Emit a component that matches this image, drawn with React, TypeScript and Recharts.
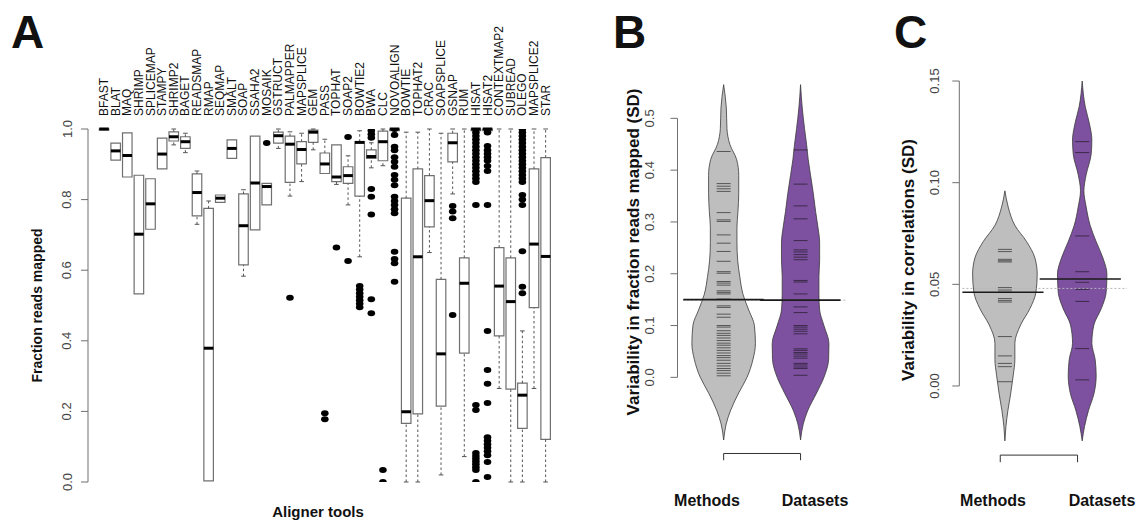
import React from 'react';
import {
  Area,
  ComposedChart,
  ReferenceArea,
  ReferenceLine,
  Scatter,
  XAxis,
  YAxis,
} from 'recharts';

const FONT = '"Liberation Sans", Arial, Helvetica, sans-serif';
const AXIS = '#6f6f6f';

// ---------- panel A: fraction of reads mapped, per aligner ----------
const TOOLS = [
  'BFAST', 'BLAT', 'MAQ', 'SHRIMP', 'SPLICEMAP', 'STAMPY', 'SHRIMP2', 'BAGET',
  'READSMAP', 'RMAP', 'SEQMAP', 'SMALT', 'SOAP', 'SSAHA2', 'MOSAIK', 'GSTRUCT',
  'PALMAPPER', 'MAPSPLICE', 'GEM', 'PASS', 'TOPHAT', 'SOAP2', 'BOWTIE2', 'BWA',
  'CLC', 'NOVOALIGN', 'BOWTIE', 'TOPHAT2', 'CRAC', 'SOAPSPLICE', 'GSNAP', 'RUM',
  'HISAT', 'HISAT2', 'CONTEXTMAP2', 'SUBREAD', 'OLEGO', 'MAPSPLICE2', 'STAR',
];

const LOWER = [
  1.0, 0.912, 0.864, 0.533, 0.716, 0.887, 0.955, 0.933, 0.73, 0.003,
  0.792, 0.917, 0.583, 0.714, 0.785, 0.945, 0.81, 0.851, 0.941, 0.874,
  0.843, 0.785, 0.638, 0.89, 0.896, 0.99, 0.0, 0.0, 0.65, 0.02,
  0.816, 0.072, 0.99, 0.99, 0.265, 0.0, 0.0, 0.265, 0.0,
];
const Q1 = [
  0.997, 0.912, 0.864, 0.533, 0.716, 0.887, 0.966, 0.945, 0.754, 0.003,
  0.792, 0.917, 0.615, 0.714, 0.785, 0.96, 0.849, 0.901, 0.962, 0.874,
  0.851, 0.846, 0.81, 0.917, 0.91, 0.995, 0.166, 0.193, 0.723, 0.215,
  0.907, 0.365, 0.995, 0.995, 0.414, 0.263, 0.152, 0.494, 0.121,
];
const MEDIAN = [
  1.0, 0.938, 0.925, 0.702, 0.788, 0.929, 0.978, 0.964, 0.82, 0.379,
  0.804, 0.945, 0.726, 0.847, 0.837, 0.981, 0.957, 0.942, 0.991, 0.901,
  0.864, 0.868, 0.962, 0.922, 0.964, 1.0, 0.199, 0.638, 0.797, 0.363,
  0.961, 0.563, 1.0, 1.0, 0.555, 0.511, 0.246, 0.674, 0.639,
];
const Q3 = [
  1.0, 0.96, 0.989, 0.869, 0.859, 0.974, 0.992, 0.978, 0.873, 0.775,
  0.813, 0.969, 0.816, 0.98, 0.846, 0.991, 0.98, 0.964, 0.997, 0.932,
  0.955, 0.893, 0.964, 0.941, 0.994, 1.0, 0.804, 0.887, 0.868, 0.574,
  0.988, 0.635, 1.0, 1.0, 0.664, 0.635, 0.28, 0.887, 0.919,
];
const UPPER = [
  1.0, 0.96, 0.989, 0.869, 0.859, 0.974, 1.0, 0.988, 0.881, 0.796,
  0.813, 0.969, 0.828, 0.98, 0.846, 1.0, 0.992, 0.988, 1.0, 0.971,
  0.955, 0.924, 0.995, 0.961, 1.0, 1.0, 0.991, 0.991, 1.0, 0.988,
  1.0, 1.0, 1.0, 1.0, 1.0, 1.0, 0.428, 1.0, 1.0,
];

const OUTLIER_TOOLS = [
  'MOSAIK', 'PALMAPPER', 'PASS', 'TOPHAT', 'SOAP2', 'BOWTIE2', 'BWA', 'CLC',
  'NOVOALIGN', 'GSNAP', 'HISAT', 'HISAT2', 'OLEGO',
];
const OUTLIER_VALUES = [
  [0.96],
  [0.522],
  [0.195, 0.178],
  [0.664],
  [0.977, 0.626],
  [0.555, 0.545, 0.535, 0.525, 0.515, 0.505, 0.495],
  [0.995, 0.985, 0.975, 0.83, 0.808, 0.758, 0.518, 0.478],
  [0.034, 0.0],
  [1.0, 0.983, 0.95, 0.94, 0.92, 0.907, 0.893, 0.87, 0.856, 0.841, 0.808,
    0.796, 0.785, 0.773, 0.761, 0.652, 0.632, 0.62, 0.567],
  [0.782, 0.766, 0.747, 0.473],
  [1.0, 0.99, 0.98, 0.97, 0.96, 0.95, 0.94, 0.93, 0.92, 0.91, 0.9, 0.89,
    0.88, 0.87, 0.86, 0.85, 0.785, 0.218, 0.204, 0.082, 0.074, 0.066, 0.058,
    0.05, 0.042, 0.034, 0.0],
  [1.0, 0.99, 0.952, 0.94, 0.93, 0.92, 0.91, 0.895, 0.881, 0.785, 0.428,
    0.317, 0.278, 0.224, 0.127, 0.117, 0.107, 0.097, 0.087, 0.076, 0.057, 0.014],
  [1.0, 0.99, 0.98, 0.97, 0.96, 0.95, 0.94, 0.93, 0.92, 0.91, 0.9, 0.89,
    0.88, 0.87, 0.86, 0.85, 0.813, 0.8, 0.785, 0.654, 0.553, 0.535],
];

// ---------- panel B: SD of fraction reads mapped ----------
const B_LEVELS = [
  0.565, 0.52, 0.48, 0.45, 0.42, 0.39, 0.355, 0.32, 0.29, 0.26, 0.225,
  0.195, 0.16, 0.13, 0.1, 0.065, 0.035, 0.0, -0.03, -0.065, -0.09, -0.121,
];
const B_METHOD_DENSITY = [
  0, 0.035, 0.043, 0.08, 0.17, 0.196, 0.196, 0.186, 0.173, 0.173, 0.183,
  0.209, 0.252, 0.326, 0.4, 0.413, 0.382, 0.304, 0.196, 0.087, 0.033, 0,
];
const B_DATASET_DENSITY = [
  0, 0.022, 0.052, 0.078, 0.1, 0.13, 0.166, 0.196, 0.226, 0.248, 0.248,
  0.239, 0.239, 0.248, 0.304, 0.369, 0.365, 0.304, 0.209, 0.091, 0.035, 0,
];
const B_METHOD_SD = [
  0.436, 0.374, 0.369, 0.364, 0.359, 0.318, 0.304, 0.301, 0.275, 0.259,
  0.243, 0.224, 0.204, 0.201, 0.185, 0.182, 0.178, 0.167, 0.164, 0.161,
  0.151, 0.138, 0.135, 0.122, 0.116, 0.1, 0.097, 0.09, 0.085, 0.081, 0.076,
  0.071, 0.066, 0.062, 0.057, 0.052, 0.047, 0.042, 0.038, 0.033, 0.027,
  0.022, 0.017, 0.013, 0.008, 0.003,
];
const B_DATASET_SD = [
  0.439, 0.373, 0.331, 0.306, 0.264, 0.246, 0.242, 0.237, 0.232, 0.227,
  0.187, 0.184, 0.161, 0.136, 0.125, 0.1, 0.097, 0.093, 0.089, 0.084, 0.055,
  0.052, 0.048, 0.045, 0.041, 0.037, 0.027, 0.024, 0.02, 0.017, 0.004,
];
const B_MEANS = [0.15, 0.149];
const B_GRAND_MEAN = 0.149;

// ---------- panel C: SD of correlations ----------
const C_LEVELS = [
  0.15, 0.1375, 0.129, 0.121, 0.114, 0.104, 0.096, 0.088, 0.079, 0.071, 0.063,
  0.055, 0.046, 0.038, 0.03, 0.021, 0.013, 0.005, -0.004, -0.012, -0.02, -0.027,
];
const C_METHOD_DENSITY = [
  null, null, null, null, null, null, 0, 0.043, 0.129, 0.281, 0.388,
  0.418, 0.401, 0.323, 0.203, 0.129, 0.129, 0.107, 0.074, 0.039, 0.013, 0,
];
const C_DATASET_DENSITY = [
  0, 0.039, 0.094, 0.125, 0.116, 0.052, 0.022, 0.052, 0.103, 0.181, 0.268,
  0.32, 0.31, 0.246, 0.151, 0.125, 0.168, 0.181, 0.151, 0.082, 0.03, 0,
];
const C_METHOD_SD = [
  0.0672, 0.0661, 0.0623, 0.0616, 0.061, 0.0484, 0.0472, 0.0461, 0.043,
  0.0421, 0.0413, 0.0243, 0.0148, 0.0111, 0.0095, 0.0021,
];
const C_DATASET_SD = [
  0.1202, 0.1148, 0.0738, 0.0562, 0.051, 0.0475, 0.0416, 0.0184, 0.003,
];
const C_MEANS = [0.0461, 0.0526];
const C_GRAND_MEAN = 0.048;

const GROUPS = ['Methods', 'Datasets'];

// ---------- derived tables ----------
const toolRows = TOOLS.map((name, i) => ({
  name,
  x: i + 1,
  lo: LOWER[i],
  q1: Q1[i],
  med: MEDIAN[i],
  q3: Q3[i],
  hi: UPPER[i],
}));

const outlierPoints = OUTLIER_TOOLS.flatMap((t, k) =>
  OUTLIER_VALUES[k].map((y) => ({ x: TOOLS.indexOf(t) + 1, y })),
);

const spread = (centre: number, w: number | null) =>
  w == null ? [null, null] : [centre - w, centre + w];

const beanRows = (levels: number[], a: (number | null)[], b: (number | null)[]) =>
  levels.map((v, i) => ({ v, m: spread(1, a[i]), d: spread(2, b[i]) }));

const bRows = beanRows(B_LEVELS, B_METHOD_DENSITY, B_DATASET_DENSITY);
const cRows = beanRows(C_LEVELS, C_METHOD_DENSITY, C_DATASET_DENSITY);

const rugPoints = (vals: number[], x: number) => vals.map((v) => ({ x, v }));

// ---------- small renderers ----------
const rotatedTick = (cx: number, digits: number) => (props: any) => {
  const { y, payload } = props;
  return (
    <text
      x={cx}
      y={y}
      transform={`rotate(-90 ${cx} ${y})`}
      textAnchor="middle"
      dominantBaseline="central"
      fontSize={13}
      fontFamily={FONT}
      fill="#444"
    >
      {Number(payload.value).toFixed(digits)}
    </text>
  );
};

const ToolTick = (props: any) => {
  const { x, payload } = props;
  const y = 116;
  return (
    <text
      x={x}
      y={y}
      transform={`rotate(-90 ${x} ${y})`}
      textAnchor="start"
      dominantBaseline="central"
      fontSize={12}
      fontFamily={FONT}
      fill="#111"
    >
      {TOOLS[payload.value - 1]}
    </text>
  );
};

const OutlierDot = (props: any) => {
  const { cx, cy } = props;
  if (cx == null || cy == null) return <g />;
  return <ellipse cx={cx} cy={cy} rx={3.8} ry={3} fill="#000" />;
};

const Rug = (props: any) => {
  const { cx, cy } = props;
  if (cx == null || cy == null) return <g />;
  return (
    <line
      x1={cx - 7}
      x2={cx + 7}
      y1={cy}
      y2={cy}
      stroke="#111"
      strokeOpacity={0.6}
      strokeWidth={1}
    />
  );
};

const BoxPanel = () => (
  <ComposedChart
    width={570}
    height={522}
    margin={{ top: 115, right: 17.4, bottom: 40, left: 0 }}
  >
    <XAxis
      type="number"
      dataKey="x"
      orientation="top"
      domain={[-0.38, 39.6]}
      allowDataOverflow
      ticks={toolRows.map((r) => r.x)}
      interval={0}
      tick={(p: any) => <ToolTick {...p} />}
      axisLine={false}
      tickLine={false}
      height={14}
    />
    <YAxis
      type="number"
      dataKey="y"
      domain={[0, 1]}
      allowDataOverflow
      ticks={[0, 0.2, 0.4, 0.6, 0.8, 1]}
      interval={0}
      width={88}
      tickSize={7}
      axisLine={{ stroke: AXIS }}
      tickLine={{ stroke: AXIS }}
      tick={rotatedTick(67, 1)}
    />

    {/* whiskers */}
    {toolRows.map((r) =>
      r.hi > r.q3 + 0.001 ? (
        <ReferenceLine
          key={`uw-${r.name}`}
          segment={[{ x: r.x, y: r.q3 }, { x: r.x, y: r.hi }]}
          stroke="#555"
          strokeDasharray="2.5 2.5"
          ifOverflow="visible"
        />
      ) : null,
    )}
    {toolRows.map((r) =>
      r.hi > r.q3 + 0.001 ? (
        <ReferenceLine
          key={`uc-${r.name}`}
          segment={[{ x: r.x - 0.2, y: r.hi }, { x: r.x + 0.2, y: r.hi }]}
          stroke="#555"
          ifOverflow="visible"
        />
      ) : null,
    )}
    {toolRows.map((r) =>
      r.lo < r.q1 - 0.001 ? (
        <ReferenceLine
          key={`lw-${r.name}`}
          segment={[{ x: r.x, y: r.lo }, { x: r.x, y: r.q1 }]}
          stroke="#555"
          strokeDasharray="2.5 2.5"
          ifOverflow="visible"
        />
      ) : null,
    )}
    {toolRows.map((r) =>
      r.lo < r.q1 - 0.001 ? (
        <ReferenceLine
          key={`lc-${r.name}`}
          segment={[{ x: r.x - 0.2, y: r.lo }, { x: r.x + 0.2, y: r.lo }]}
          stroke="#555"
          ifOverflow="visible"
        />
      ) : null,
    )}

    {/* boxes */}
    {toolRows.map((r) => (
      <ReferenceArea
        key={`box-${r.name}`}
        x1={r.x - 0.41}
        x2={r.x + 0.41}
        y1={r.q1}
        y2={r.q3}
        fill="#fff"
        fillOpacity={1}
        stroke="#707070"
        strokeWidth={1.2}
        ifOverflow="visible"
      />
    ))}

    {/* medians */}
    {toolRows.map((r) => (
      <ReferenceLine
        key={`med-${r.name}`}
        segment={[{ x: r.x - 0.41, y: r.med }, { x: r.x + 0.41, y: r.med }]}
        stroke="#000"
        strokeWidth={3}
        ifOverflow="visible"
      />
    ))}

    <Scatter
      data={outlierPoints}
      dataKey="y"
      shape={(p: any) => <OutlierDot {...p} />}
      isAnimationActive={false}
    />
  </ComposedChart>
);

interface BeanProps {
  rows: any[];
  width: number;
  yAxisWidth: number;
  xDomain: [number, number];
  yDomain: [number, number];
  margin: { top: number; right: number; bottom: number; left: number };
  ticks: number[];
  digits: number;
  labelX: number;
  methodSd: number[];
  datasetSd: number[];
  means: number[];
  grandMean: number;
  meanSpan: [number, number];
  bracket: { y: number; drop: number; from: number; to: number };
}

const BeanPanel = ({
  rows,
  width,
  yAxisWidth,
  xDomain,
  yDomain,
  margin,
  ticks,
  digits,
  labelX,
  methodSd,
  datasetSd,
  means,
  grandMean,
  meanSpan,
  bracket,
}: BeanProps) => (
  <ComposedChart layout="vertical" width={width} height={522} data={rows} margin={margin}>
    <XAxis type="number" domain={xDomain} allowDataOverflow hide />
    <YAxis
      type="number"
      dataKey="v"
      domain={yDomain}
      allowDataOverflow
      reversed
      ticks={ticks}
      interval={0}
      width={yAxisWidth}
      tickSize={7}
      axisLine={false}
      tickLine={{ stroke: AXIS }}
      tick={rotatedTick(labelX, digits)}
    />
    <ReferenceLine
      segment={[
        { x: xDomain[0], y: ticks[0] },
        { x: xDomain[0], y: ticks[ticks.length - 1] },
      ]}
      stroke={AXIS}
      ifOverflow="visible"
    />

    <Area
      dataKey="m"
      type="monotone"
      fill="#bebebe"
      fillOpacity={1}
      stroke="#3a3a3a"
      strokeWidth={0.8}
      dot={false}
      activeDot={false}
      isAnimationActive={false}
    />
    <Area
      dataKey="d"
      type="monotone"
      fill="#7d50a0"
      fillOpacity={1}
      stroke="#3a3a3a"
      strokeWidth={0.8}
      dot={false}
      activeDot={false}
      isAnimationActive={false}
    />

    <Scatter
      data={rugPoints(methodSd, 1)}
      dataKey="x"
      shape={(p: any) => <Rug {...p} />}
      isAnimationActive={false}
    />
    <Scatter
      data={rugPoints(datasetSd, 2)}
      dataKey="x"
      shape={(p: any) => <Rug {...p} />}
      isAnimationActive={false}
    />

    <ReferenceLine
      segment={[
        { x: 1 + meanSpan[0], y: grandMean },
        { x: 2 + meanSpan[1] + 0.08, y: grandMean },
      ]}
      stroke="#b5b5b5"
      strokeDasharray="2 2"
      ifOverflow="visible"
    />
    {means.map((m, i) => (
      <ReferenceLine
        key={`mean-${GROUPS[i]}`}
        segment={[
          { x: i + 1 + meanSpan[0], y: m },
          { x: i + 1 + meanSpan[1], y: m },
        ]}
        stroke="#1a1a1a"
        strokeWidth={1.6}
        ifOverflow="visible"
      />
    ))}

    {/* group axis bracket */}
    <ReferenceLine
      segment={[
        { x: bracket.from, y: bracket.y },
        { x: bracket.to, y: bracket.y },
      ]}
      stroke="#333"
      ifOverflow="visible"
    />
    <ReferenceLine
      segment={[
        { x: bracket.from, y: bracket.y },
        { x: bracket.from, y: bracket.drop },
      ]}
      stroke="#333"
      ifOverflow="visible"
    />
    <ReferenceLine
      segment={[
        { x: bracket.to, y: bracket.y },
        { x: bracket.to, y: bracket.drop },
      ]}
      stroke="#333"
      ifOverflow="visible"
    />
  </ComposedChart>
);

const Label = ({ x, y, size, rotate, children }: any) => (
  <text
    x={x}
    y={y}
    transform={rotate ? `rotate(-90 ${x} ${y})` : undefined}
    textAnchor="middle"
    dominantBaseline="central"
    fontSize={size}
    fontWeight="bold"
    fontFamily={FONT}
    fill="#111"
  >
    {children}
  </text>
);

export default function App() {
  return (
    <div
      style={{
        position: 'absolute',
        left: 0,
        top: 0,
        width: 1143,
        height: 522,
        background: '#fff',
        overflow: 'hidden',
        fontFamily: FONT,
      }}
    >
      <div style={{ position: 'absolute', left: 0, top: 0 }}>
        <BoxPanel />
      </div>

      <div style={{ position: 'absolute', left: 600, top: 0 }}>
        <BeanPanel
          rows={bRows}
          width={260}
          yAxisWidth={77.5}
          xDomain={[0.4, 2.7]}
          yDomain={[-0.17, 0.58]}
          margin={{ top: 76.9, right: 5.6, bottom: 56.6, left: 0 }}
          ticks={[0, 0.1, 0.2, 0.3, 0.4, 0.5]}
          digits={1}
          labelX={50}
          methodSd={B_METHOD_SD}
          datasetSd={B_DATASET_SD}
          means={B_MEANS}
          grandMean={B_GRAND_MEAN}
          meanSpan={[-0.525, 0.52]}
          bracket={{ y: -0.147, drop: -0.16, from: 1, to: 2 }}
        />
      </div>

      <div style={{ position: 'absolute', left: 880, top: 0 }}>
        <BeanPanel
          rows={cRows}
          width={263}
          yAxisWidth={79.3}
          xDomain={[0.41, 2.7]}
          yDomain={[-0.04, 0.16]}
          margin={{ top: 60.7, right: 6.7, bottom: 54.7, left: 0 }}
          ticks={[0, 0.05, 0.1, 0.15]}
          digits={2}
          labelX={55}
          methodSd={C_METHOD_SD}
          datasetSd={C_DATASET_SD}
          means={C_MEANS}
          grandMean={C_GRAND_MEAN}
          meanSpan={[-0.55, 0.5]}
          bracket={{ y: -0.034, drop: -0.0375, from: 0.94, to: 1.94 }}
        />
      </div>

      <svg
        width={1143}
        height={522}
        style={{ position: 'absolute', left: 0, top: 0, pointerEvents: 'none' }}
      >
        <text x={11} y={48} fontSize={46} fontWeight="bold" fontFamily={FONT} fill="#111">A</text>
        <text x={613} y={48} fontSize={46} fontWeight="bold" fontFamily={FONT} fill="#111">B</text>
        <text x={894} y={48} fontSize={46} fontWeight="bold" fontFamily={FONT} fill="#111">C</text>

        <Label x={37} y={305.5} size={14} rotate>Fraction reads mapped</Label>
        <Label x={318} y={511} size={15}>Aligner tools</Label>

        <Label x={633} y={252} size={17} rotate>Variability in fraction reads mapped (SD)</Label>
        <Label x={707} y={500} size={16}>{GROUPS[0]}</Label>
        <Label x={815} y={500} size={16}>{GROUPS[1]}</Label>

        <Label x={908} y={260} size={17} rotate>Variability in correlations (SD)</Label>
        <Label x={993} y={500} size={16}>{GROUPS[0]}</Label>
        <Label x={1102} y={500} size={16}>{GROUPS[1]}</Label>
      </svg>
    </div>
  );
}
